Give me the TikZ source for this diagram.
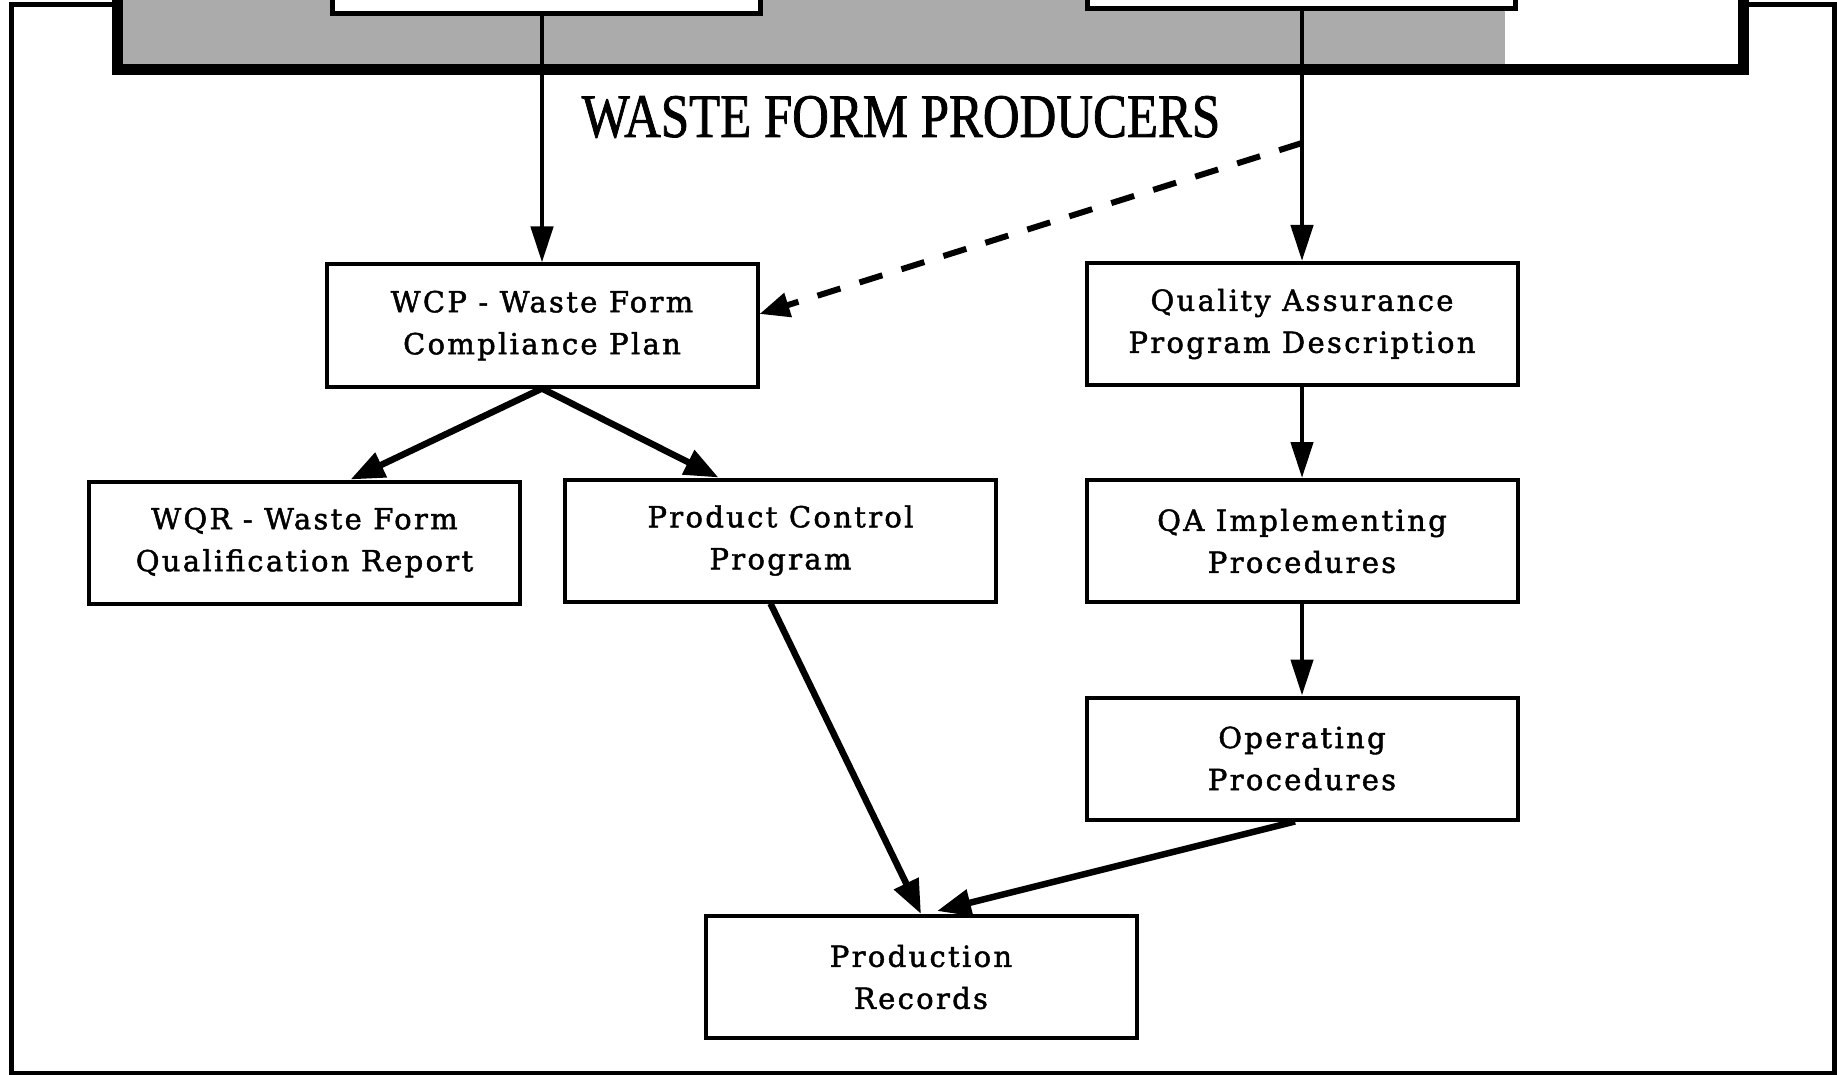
\documentclass[tikz,border=0pt]{standalone}
\usepackage{fontspec}
\setmainfont{DejaVu Serif}[LetterSpace=8,FakeBold=1.6]
\newfontfamily\titlefont{Liberation Serif}[FakeStretch=0.82,FakeBold=1.2]
\usetikzlibrary{arrows.meta,positioning,calc}

\tikzset{
  docbox/.style={draw,shape=rectangle,line width=4pt,fill=white,
    minimum width=431pt,minimum height=122pt,inner sep=0pt,align=center,
    font=\fontsize{29}{42}\selectfont},
  topbox/.style={draw,shape=rectangle,line width=5pt,fill=white,
    minimum width=428pt,minimum height=100pt,inner sep=0pt},
  flow/.style={line width=4.5pt,-{Triangle[length=36pt,width=22pt]}},
  heavyflow/.style={line width=6.5pt,-{Triangle[length=34pt,width=26pt]}},
  dashflow/.style={line width=6pt,dash pattern=on 24pt off 20pt,
    -{Triangle[length=30pt,width=24pt]}}
}

\begin{document}
\begin{tikzpicture}[x=1pt,y=-1pt]

      \useasboundingbox (0,0) rectangle (1837,1075);
      \clip (0,0) rectangle (1837,1075);

      % frame and shaded band
      \draw[line width=5pt] (11,5) rectangle (1834,1073);
      \draw[line width=11pt,fill=black!33] (117.5,-40) rectangle (1743.5,69.5);
      \fill[white] (1505,-40) rectangle (1738,64);

      \path (546,-36)  node[topbox] (ltop) {};
      \path (1301,-41) node[topbox] (rtop) {};

      \path (901,137) node[anchor=base,inner sep=0pt,
        font=\titlefont\fontsize{62}{62}\selectfont] (title) {WASTE FORM PRODUCERS};

      % documents
      \path (542,325.5)  node[docbox] (wcp)  {WCP - Waste Form\\Compliance Plan};
      \path (1302,324)   node[docbox] (qapd) {Quality Assurance\\Program Description};
      \path (304.5,542.5) node[docbox] (wqr) {WQR - Waste Form\\Qualification Report};
      \path (780.5,540.5) node[docbox] (pcp) {Product Control\\Program};
      \path (1302,541)   node[docbox] (qaip) {QA Implementing\\Procedures};
      \path (1302,758.5) node[docbox] (op)   {Operating\\Procedures};
      \path (921,977)    node[docbox] (pr)   {Production\\Records};

      \coordinate (split) at (1302,143);

      \draw[flow] (ltop.south -| wcp.north) -- (wcp.north);
      \draw[flow] (rtop.south -| qapd.north) -- (qapd.north);
      \draw[dashflow] (split) -- ([yshift=11.5pt]wcp.east);
      \draw[heavyflow] (wcp.south) -- ([xshift=46pt]wqr.north);
      \draw[heavyflow] (wcp.south) -- ([xshift=-62pt]pcp.north);
      \draw[flow] (qapd) -- (qaip);
      \draw[flow] (qaip) -- (op);
      \draw[heavyflow] ([xshift=-10pt]pcp.south) -- (pr.north);
      \draw[heavyflow] ([xshift=-7pt]op.south) -- ([xshift=16pt,yshift=3pt]pr.north);

    \end{tikzpicture}
\end{document}
